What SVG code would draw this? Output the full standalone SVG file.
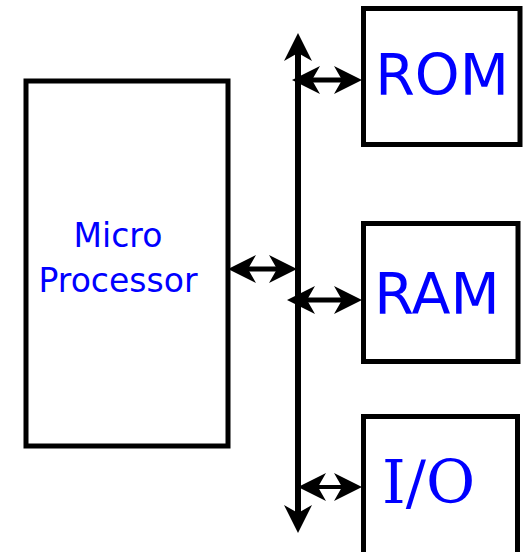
<svg xmlns="http://www.w3.org/2000/svg" width="524" height="552" viewBox="0 0 524 552">
<style>
.box{fill:#fff;stroke:#000;stroke-width:5}
.lbl{fill:#0000ff;font-family:"DejaVu Sans",Verdana,sans-serif}
.conn{stroke:#000;stroke-width:5;fill:none;marker-start:url(#ah);marker-end:url(#ah)}
</style>
<defs>
<marker id="ah" viewBox="0 0 28 28" refX="13" refY="14" markerWidth="28" markerHeight="28" markerUnits="userSpaceOnUse" orient="auto-start-reverse">
<path d="M0,0 L28,14 L0,28 L8,14 Z" fill="#000"/>
</marker>
</defs>
<rect width="524" height="552" fill="#fff"/>
<g id="micro">
<rect class="box" x="26" y="81" width="202" height="365"/>
<text class="lbl" x="118" y="247" font-size="33" text-anchor="middle">Micro</text>
<text class="lbl" x="118" y="292" font-size="33" text-anchor="middle">Processor</text>
</g>
<g id="rom">
<rect class="box" x="363.5" y="8.5" width="156.5" height="136"/>
<text class="lbl" x="442" y="95" font-size="57" text-anchor="middle">ROM</text>
</g>
<g id="ram">
<rect class="box" x="363.5" y="223.5" width="154.5" height="138"/>
<text class="lbl" x="437" y="314" font-size="57" text-anchor="middle">RAM</text>
</g>
<g id="io">
<rect class="box" x="363.5" y="416.5" width="154" height="160"/>
<text class="lbl" x="382" y="503" font-size="60" style="font-family:'DejaVu Serif','Liberation Serif',serif">I/O</text>
</g>
<g id="connectors">
<line class="conn" x1="298" y1="48" x2="298" y2="518" style="stroke-width:6"/>
<line class="conn" x1="307" y1="80" x2="347" y2="80"/>
<line class="conn" x1="243" y1="269" x2="282" y2="269"/>
<line class="conn" x1="302" y1="300" x2="347" y2="300"/>
<line class="conn" x1="313" y1="487" x2="347" y2="487" style="stroke-width:4"/>
</g>
</svg>
